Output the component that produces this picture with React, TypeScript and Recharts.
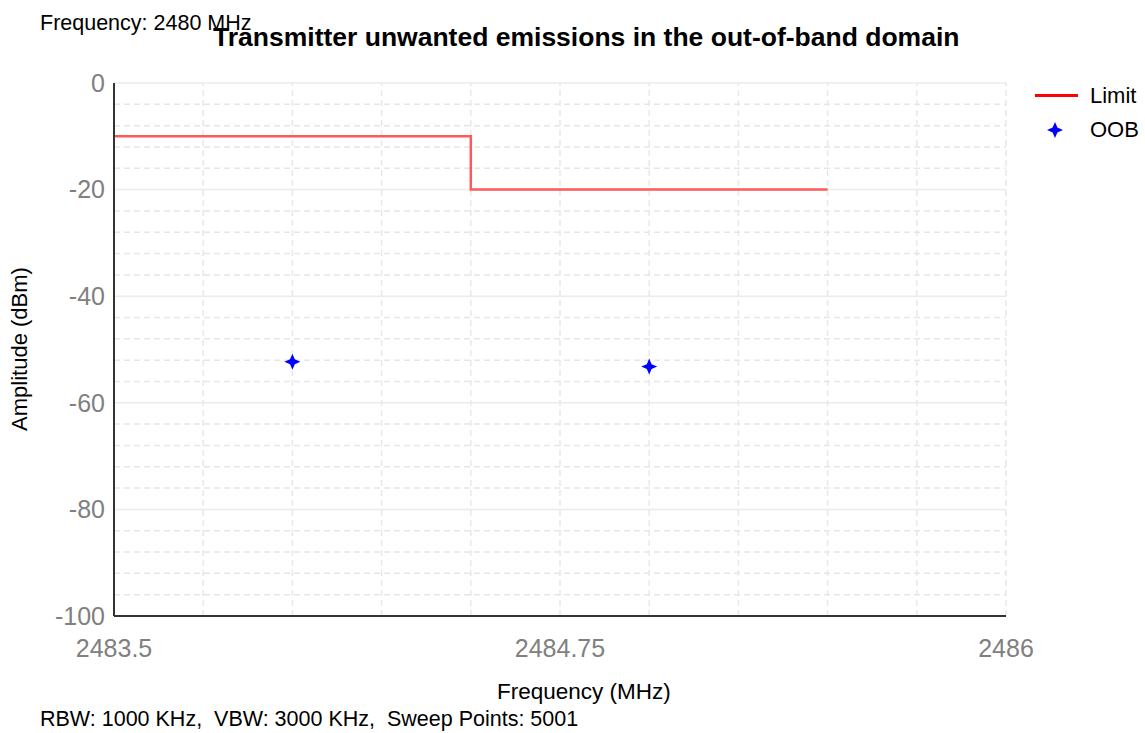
import React from "react";
import {
    ComposedChart,
    Line,
    Scatter,
    XAxis,
    YAxis,
    ReferenceLine,
} from "recharts";

// limit mask (step), OOB measurement points
const limitFreq = [2483.5, 2484.5, 2484.5, 2485.5];
const limitAmp = [-10, -10, -20, -20];
const oobFreq = [2484.0, 2485.0];
const oobAmp = [-52.3, -53.2];

const xTicks = [2483.5, 2484.75, 2486];
const yTicks = [0, -20, -40, -60, -80, -100];
const xGrid = [2483.75, 2484, 2484.25, 2484.5, 2484.75, 2485, 2485.25, 2485.5, 2485.75, 2486];
const yMinor = [-4, -8, -12, -16, -24, -28, -32, -36, -44, -48, -52, -56, -64, -68, -72, -76, -84, -88, -92, -96];

const limitData = limitFreq.map((f, i) => ({ x: f, y: limitAmp[i] }));
const oobData = oobFreq.map((f, i) => ({ x: f, y: oobAmp[i] }));

const FONT = "'Liberation Sans', Arial, sans-serif";

const Star = (props: any) => {
    const { cx, cy } = props;
    const a = 8;
    const b = 2.4;
    const d = `M${cx},${cy - a} L${cx + b},${cy - b} L${cx + a},${cy} L${cx + b},${cy + b} L${cx},${cy + a} L${cx - b},${cy + b} L${cx - a},${cy} L${cx - b},${cy - b} Z`;
    return <path d={d} fill="#0000ff" />;
};

const txt = (style: React.CSSProperties): React.CSSProperties => ({
    position: "absolute",
    whiteSpace: "nowrap",
    lineHeight: 1,
    fontFamily: FONT,
    color: "#000",
    ...style,
});

export default function App() {
    return (
        <div style={{ position: "absolute", left: 0, top: 0, width: 1145, height: 733, background: "#fff" }}>
            <ComposedChart
                width={1145}
                height={733}
                margin={{ top: 83, right: 139, left: 0, bottom: 0 }}
            >
                {yMinor.map((v) => (
                    <ReferenceLine key={"ym" + v} y={v} stroke="#e6e6e6" strokeDasharray="6 4" strokeWidth={1.5} />
                ))}
                {yTicks.map((v) => (
                    <ReferenceLine key={"yM" + v} y={v} stroke="#ebebeb" strokeWidth={1.5} />
                ))}
                {xGrid.map((v) => (
                    <ReferenceLine key={"x" + v} x={v} stroke="#e8e8e8" strokeDasharray="6 4" strokeWidth={1.5} />
                ))}
                <XAxis
                    dataKey="x"
                    type="number"
                    domain={[2483.5, 2486]}
                    ticks={xTicks}
                    height={117}
                    tickLine={false}
                    tickSize={0}
                    tickMargin={23}
                    axisLine={{ stroke: "#333", strokeWidth: 2 }}
                    tick={{ fill: "#808080", fontSize: 25, fontFamily: FONT }}
                    allowDataOverflow
                />
                <YAxis
                    dataKey="y"
                    type="number"
                    domain={[-100, 0]}
                    ticks={yTicks}
                    width={114}
                    tickLine={false}
                    tickSize={0}
                    tickMargin={9}
                    axisLine={{ stroke: "#333", strokeWidth: 2 }}
                    tick={{ fill: "#808080", fontSize: 25, fontFamily: FONT }}
                    allowDataOverflow
                />
                <Line
                    data={limitData}
                    dataKey="y"
                    type="linear"
                    stroke="#ff5a5a"
                    strokeWidth={2.5}
                    dot={false}
                    activeDot={false}
                    isAnimationActive={false}
                />
                <Scatter data={oobData} dataKey="y" shape={<Star />} isAnimationActive={false} />
            </ComposedChart>

            <div style={txt({ left: 40, top: 13, fontSize: 21.5 })}>Frequency: 2480 MHz</div>
            <div style={txt({ left: 213, top: 24, fontSize: 26.5, fontWeight: "bold" })}>
                Transmitter unwanted emissions in the out-of-band domain
            </div>
            <div style={txt({ left: 497, top: 681, fontSize: 22.5 })}>Frequency (MHz)</div>
            <div style={txt({ left: 40, top: 709, fontSize: 21.5 })}>
                RBW: 1000 KHz,&nbsp; VBW: 3000 KHz,&nbsp; Sweep Points: 5001
            </div>
            <div
                style={txt({
                    left: 20,
                    top: 349,
                    fontSize: 22,
                    transform: "translate(-50%, -50%) rotate(-90deg)",
                })}
            >
                Amplitude (dBm)
            </div>

            {/* legend */}
            <div style={{ position: "absolute", left: 1035, top: 94, width: 43, height: 3, background: "#ff0000" }} />
            <div style={txt({ left: 1090, top: 85, fontSize: 22 })}>Limit</div>
            <svg style={{ position: "absolute", left: 1047, top: 122 }} width={16} height={16}>
                <Star cx={8} cy={8} />
            </svg>
            <div style={txt({ left: 1090, top: 119, fontSize: 22 })}>OOB</div>
        </div>
    );
}
